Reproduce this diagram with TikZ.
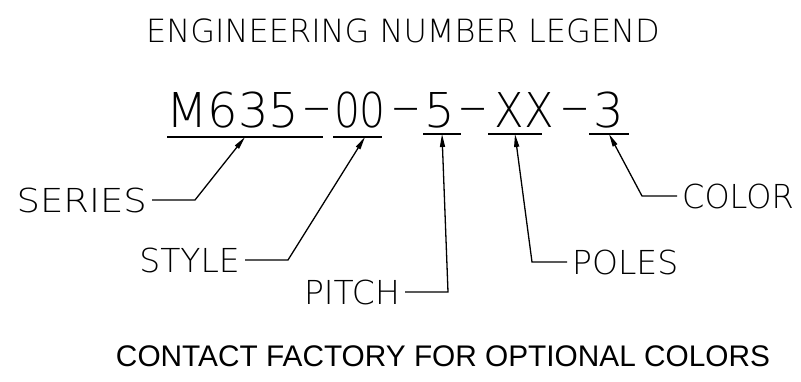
\documentclass[tikz,border=0pt]{standalone}
\usepackage{fontspec}
\usetikzlibrary{arrows.meta}
\setmainfont{Liberation Sans}
\newfontfamily\cadfont{DejaVu Sans ExtraLight}
\newcommand{\cadDash}{\raisebox{5pt}{\scalebox{1.8}[1]{-}}}
\tikzset{
  cad/.style={inner sep=0pt, font=\cadfont},
  codetxt/.style={cad, anchor=base, font=\cadfont\fontsize{48}{48}\selectfont},
  lbl/.style={inner ysep=0pt, inner xsep=5pt, font=\cadfont\fontsize{33}{33}\selectfont},
  uline/.style={line width=1.3pt},
  leader/.style={line width=1.3pt, -{Triangle[length=13pt,width=5pt]}},
}
\begin{document}
\begin{tikzpicture}[x=1pt,y=-1pt]
\useasboundingbox (0,0) rectangle (801,381);
% title
\node[cad, font=\cadfont\fontsize{32}{32}\selectfont] (title) at (403,31) {ENGINEERING NUMBER LEGEND};
% code segments
\node[codetxt] (series) at (233,127.5) {M635};
\node[codetxt] (d1) at (317,127.5) {\cadDash};
\node[codetxt] (style) at (360,127.5) {\scalebox{0.85}[1]{00}};
\node[codetxt] (d2) at (406,127.5) {\cadDash};
\node[codetxt] (pitch) at (440,127.5) {5};
\node[codetxt] (d3) at (473,127.5) {\cadDash};
\node[codetxt] (poles) at (524,127.5) {\scalebox{0.9}[1]{XX}};
\node[codetxt] (d4) at (575,127.5) {\cadDash};
\node[codetxt] (color) at (609,127.5) {3};
% underlines
\draw[uline] (167,137) -- (323,137);
\draw[uline] (333,137) -- (382,137);
\draw[uline] (423,134) -- (461,134);
\draw[uline] (488,134) -- (542,134);
\draw[uline] (589,134) -- (629,134);
% arrow tips
\coordinate (tS) at (245,137);
\coordinate (tY) at (365,137);
\coordinate (tP) at (442,134);
\coordinate (tO) at (515,134);
\coordinate (tC) at (609,134);
% bends
\coordinate (bS) at (195,200);
\coordinate (bY) at (288,260);
\coordinate (bP) at (448,292);
\coordinate (bO) at (532,262);
\coordinate (bC) at (642,196);
% labels
\node[lbl, anchor=east] (lS) at (152,200) {\scalebox{1.12}[1]{SERIES}};
\node[lbl, anchor=east] (lY) at (245,260) {STYLE};
\node[lbl, anchor=east] (lP) at (405,292) {PITCH};
\node[lbl, anchor=west] (lO) at (567,262) {POLES};
\node[lbl, anchor=west] (lC) at (677,196) {\scalebox{0.97}[1]{COLOR}};
% leaders
\draw[leader] (lS.east) -- (bS) -- (tS);
\draw[leader] (lY.east) -- (bY) -- (tY);
\draw[leader] (lP.east) -- (bP) -- (tP);
\draw[leader] (lO.west) -- (bO) -- (tO);
\draw[leader] (lC.west) -- (bC) -- (tC);
% note
\node[inner sep=0pt, font=\fontsize{29.8}{29.8}\selectfont] (note) at (443,356) {CONTACT FACTORY FOR OPTIONAL COLORS};
\end{tikzpicture}
\end{document}
